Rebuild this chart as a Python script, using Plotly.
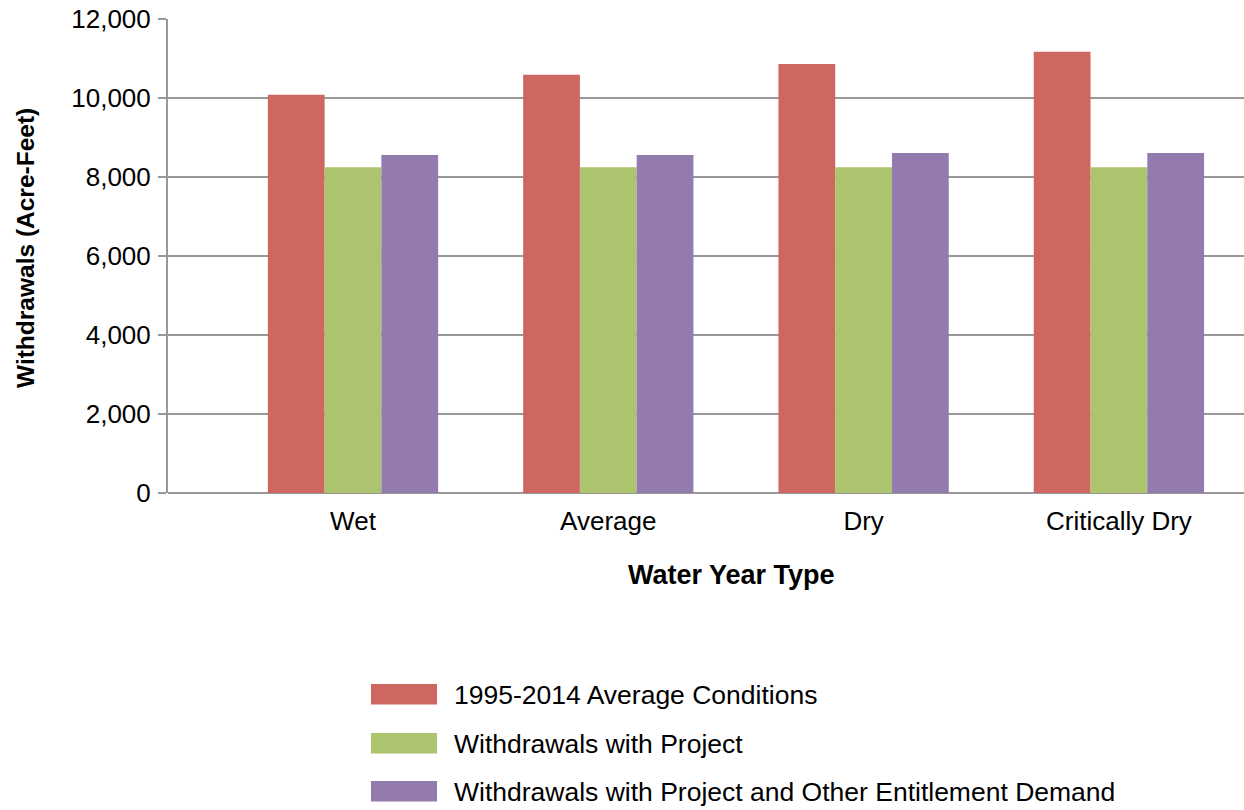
import plotly.graph_objects as go

categories = ["Wet", "Average", "Dry", "Critically Dry"]
series_names = [
    "1995-2014 Average Conditions",
    "Withdrawals with Project",
    "Withdrawals with Project and Other Entitlement Demand",
]
avg_conditions = [10080, 10590, 10860, 11170]
with_project = [8250, 8250, 8250, 8250]
with_project_other = [8560, 8560, 8610, 8610]
series_values = [avg_conditions, with_project, with_project_other]
colors = ["#CE6760", "#ABC46D", "#937BB0"]
y_ticks = [0, 2000, 4000, 6000, 8000, 10000, 12000]
y_tick_labels = ["0", "2,000", "4,000", "6,000", "8,000", "10,000", "12,000"]
x_title = "Water Year Type"
y_title = "Withdrawals (Acre-Feet)"

W, H = 1244, 810
L, R, T, B = 168, 0, 19, 317
PW, PH = W - L - R, H - T - B

FONT = "Liberation Sans, Arial, sans-serif"

fig = go.Figure()
for name, vals, c in zip(series_names, series_values, colors):
    fig.add_trace(go.Bar(x=categories, y=vals, name=name, marker=dict(color=c, line=dict(width=0)),
                         showlegend=False))

# pixel positions converted to paper coords
def px_x(p):
    return (p - L) / PW

def px_y(p):
    return (H - B - p) / PH

# manual legend with wide swatches
sw_tops = [684, 733, 781]
for i, (name, c) in enumerate(zip(series_names, colors)):
    t = sw_tops[i]
    fig.add_shape(type="rect", xref="paper", yref="paper",
                  x0=px_x(371), x1=px_x(437), y0=px_y(t + 20.5), y1=px_y(t),
                  fillcolor=c, line=dict(width=0))
    fig.add_annotation(xref="paper", yref="paper", x=px_x(452), y=px_y(t + 10.5),
                       text=name, showarrow=False, xanchor="left", yanchor="middle",
                       font=dict(family=FONT, size=26.5, color="#000000"))

# axis titles
fig.add_annotation(xref="paper", yref="paper", x=px_x(731.5), y=px_y(575),
                   text="<b>" + x_title + "</b>", showarrow=False,
                   xanchor="center", yanchor="middle",
                   font=dict(family=FONT, size=27, color="#000000"))
fig.add_annotation(xref="paper", yref="paper", x=px_x(25), y=px_y(248),
                   text="<b>" + y_title + "</b>", showarrow=False, textangle=-90,
                   xanchor="center", yanchor="middle",
                   font=dict(family=FONT, size=24.5, color="#000000"))

fig.update_layout(
    width=W, height=H,
    margin=dict(l=L, r=R, t=T, b=B, autoexpand=False),
    paper_bgcolor="white", plot_bgcolor="white",
    barmode="group", bargap=0.333, bargroupgap=0,
    font=dict(family=FONT, size=26, color="#000000"),
)
fig.update_xaxes(
    type="category", range=[-0.7246, 3.49],
    showline=False, showgrid=False, zeroline=False,
    ticks="", ticklabelstandoff=10,
    tickfont=dict(family=FONT, size=26, color="#000000"),
)
fig.update_yaxes(
    range=[0, 12000], tickvals=y_ticks, ticktext=y_tick_labels,
    showgrid=True, gridcolor="#989898", gridwidth=2,
    showline=True, linecolor="#989898", linewidth=2,
    zeroline=True, zerolinecolor="#989898", zerolinewidth=2,
    ticks="outside", ticklen=8, tickwidth=2, tickcolor="#989898",
    ticklabelstandoff=2,
    tickfont=dict(family=FONT, size=26, color="#000000"),
)

fig.write_html("out.html")
